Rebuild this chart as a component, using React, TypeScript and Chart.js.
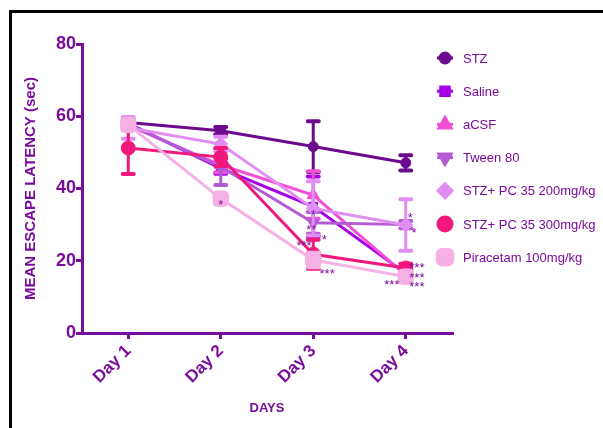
import React, { useEffect, useRef } from 'react';
import { Chart, registerables } from 'chart.js';
import { drawPoint } from 'chart.js/helpers';

Chart.register(...registerables);

// ---------- data ----------
const days = ['Day 1', 'Day 2', 'Day 3', 'Day 4'];
const yTickValues = [0, 20, 40, 60, 80];
const seriesNames = [
  'STZ',
  'Saline',
  'aCSF',
  'Tween 80',
  'STZ+ PC 35 200mg/kg',
  'STZ+ PC 35 300mg/kg',
  'Piracetam 100mg/kg',
];
const stzMean = [58.3, 56.0, 51.6, 47.1];
const stzErr = [0.8, 1.0, 7.0, 2.1];
const salineMean = [58.0, 45.6, 35.0, 16.5];
const salineErr = [0.8, 1.5, 8.3, 1.0];
const acsfMean = [57.5, 46.5, 38.2, 16.0];
const acsfErr = [1.0, 2.0, 6.6, 1.0];
const tweenMean = [57.8, 46.0, 30.5, 30.0];
const tweenErr = [1.0, 5.0, 3.0, 1.0];
const pc200Mean = [56.8, 52.3, 34.5, 29.9];
const pc200Err = [3.0, 2.0, 7.5, 7.1];
const pc300Mean = [51.2, 48.7, 21.8, 18.0];
const pc300Err = [7.2, 2.5, 4.0, 1.2];
const piracetamMean = [57.6, 37.2, 20.2, 15.6];
const piracetamErr = [1.5, 1.5, 2.0, 1.5];

// significance marks: [day position (0-based), value, text]
const sigMarks: [number, number, string][] = [
  [1.0, 36.5, '*'],
  [2.0, 33.6, '*'],
  [1.98, 29.6, '**'],
  [2.12, 26.7, '*'],
  [1.9, 25.0, '***'],
  [2.15, 17.4, '***'],
  [3.05, 32.7, '*'],
  [3.09, 28.7, '*'],
  [3.12, 19.1, '***'],
  [3.12, 16.3, '***'],
  [3.12, 13.6, '***'],
  [2.85, 14.2, '***'],
];

const means = [stzMean, salineMean, acsfMean, tweenMean, pc200Mean, pc300Mean, piracetamMean];
const errs = [stzErr, salineErr, acsfErr, tweenErr, pc200Err, pc300Err, piracetamErr];

// ---------- styles ----------
const PURPLE = '#7a0c9c';
const colors = ['#6b0a8d', '#a600e6', '#f050d6', '#b45ad4', '#e08ef2', '#f0187a', '#f5b0e4'];
const pointStyles = ['circle', 'rect', 'triangle', 'triangle', 'rectRot', 'circle', 'rectRounded'];
const pointRotations = [0, 0, 0, 180, 0, 0, 0];
const pointRadii = [5, 6, 7, 7, 7, 7, 9];
const FONT = "'Liberation Sans', Arial, Helvetica, sans-serif";

const errorBarPlugin = {
  id: 'errorBars',
  beforeDatasetDraw(chart: any, args: any) {
    const i = args.index;
    const meta = args.meta;
    const yScale = chart.scales.y;
    const ctx = chart.ctx;
    ctx.save();
    ctx.strokeStyle = colors[i];
    ctx.lineCap = 'round';
    meta.data.forEach((pt: any, j: number) => {
      const v = means[i][j];
      const e = errs[i][j];
      const yt = yScale.getPixelForValue(v + e);
      const yb = yScale.getPixelForValue(v - e);
      const x = pt.x;
      ctx.lineWidth = 3;
      ctx.beginPath();
      ctx.moveTo(x, yt);
      ctx.lineTo(x, yb);
      ctx.stroke();
      ctx.lineWidth = 4;
      ctx.beginPath();
      ctx.moveTo(x - 5.5, yt);
      ctx.lineTo(x + 5.5, yt);
      ctx.moveTo(x - 5.5, yb);
      ctx.lineTo(x + 5.5, yb);
      ctx.stroke();
    });
    ctx.restore();
  },
};

const marksPlugin = {
  id: 'sigMarks',
  afterDatasetsDraw(chart: any) {
    const ctx = chart.ctx;
    const xs = chart.scales.x;
    const ys = chart.scales.y;
    ctx.save();
    ctx.fillStyle = PURPLE;
    ctx.font = `13px ${FONT}`;
    ctx.textAlign = 'center';
    ctx.textBaseline = 'alphabetic';
    sigMarks.forEach(([d, v, t]) => {
      const x = xs.getPixelForValue(d);
      const y = ys.getPixelForValue(v);
      ctx.fillText(t, x, y + 7.5);
    });
    ctx.restore();
  },
};

const legendPlugin = {
  id: 'customLegend',
  afterDraw(chart: any) {
    const ctx = chart.ctx;
    ctx.save();
    seriesNames.forEach((name, i) => {
      const y = 58 + 33.2 * i;
      const cx = 445;
      ctx.strokeStyle = colors[i];
      ctx.fillStyle = colors[i];
      ctx.lineWidth = 3;
      ctx.beginPath();
      ctx.moveTo(cx - 8, y);
      ctx.lineTo(cx + 8, y);
      ctx.stroke();
      drawPoint(
        ctx,
        {
          pointStyle: pointStyles[i] as any,
          rotation: pointRotations[i],
          radius: pointRadii[i],
          borderWidth: 1,
        } as any,
        cx,
        y
      );
      ctx.fillStyle = PURPLE;
      ctx.font = `13px ${FONT}`;
      ctx.textAlign = 'left';
      ctx.textBaseline = 'middle';
      ctx.fillText(name, 463, y + 1);
    });
    ctx.restore();
  },
};

export default function App() {
  const ref = useRef<HTMLCanvasElement | null>(null);

  useEffect(() => {
    if (!ref.current) return;
    const chart = new Chart(ref.current, {
      type: 'line',
      data: {
        labels: days,
        datasets: seriesNames.map((name, i) => ({
          label: name,
          data: means[i],
          borderColor: colors[i],
          backgroundColor: colors[i],
          pointBackgroundColor: colors[i],
          pointBorderColor: colors[i],
          borderWidth: 3,
          pointStyle: pointStyles[i] as any,
          pointRotation: pointRotations[i],
          pointRadius: pointRadii[i],
          pointBorderWidth: 1,
          tension: 0,
          fill: false,
          order: seriesNames.length - 1 - i,
        })),
      },
      options: {
        animation: false,
        responsive: false,
        devicePixelRatio: 1,
        layout: { padding: { top: 44, right: 151, left: 0, bottom: 0 } },
        plugins: {
          legend: { display: false },
          tooltip: { enabled: false },
        },
        scales: {
          x: {
            type: 'category',
            offset: true,
            afterFit: (s: any) => {
              s.height = 95;
            },
            grid: {
              drawOnChartArea: false,
              drawTicks: true,
              tickLength: 6,
              color: PURPLE,
              lineWidth: 3,
              offset: false,
            },
            border: { display: true, color: PURPLE, width: 3 },
            ticks: {
              color: PURPLE,
              font: { family: FONT, size: 17, weight: 'bold' },
              minRotation: 45,
              maxRotation: 45,
              padding: 2,
            },
            title: {
              display: true,
              text: 'DAYS',
              color: PURPLE,
              font: { family: FONT, size: 13, weight: 'bold' },
              padding: { top: 0, bottom: 12 },
            },
          },
          y: {
            min: 0,
            max: 80,
            afterFit: (s: any) => {
              s.width = 82;
            },
            afterBuildTicks: (s: any) => {
              s.ticks = yTickValues.map((v) => ({ value: v }));
            },
            grid: {
              drawOnChartArea: false,
              drawTicks: true,
              tickLength: 6,
              color: PURPLE,
              lineWidth: 3,
            },
            border: { display: true, color: PURPLE, width: 3 },
            ticks: {
              color: PURPLE,
              font: { family: FONT, size: 18, weight: 'bold' },
              padding: 0,
            },
            title: {
              display: true,
              text: 'MEAN ESCAPE LATENCY (sec)',
              color: PURPLE,
              font: { family: FONT, size: 15, weight: 'bold' },
              padding: { top: 22, bottom: 0 },
            },
          },
        },
      },
      plugins: [errorBarPlugin, marksPlugin, legendPlugin],
    });
    return () => chart.destroy();
  }, []);

  return (
    <div style={{ position: 'fixed', left: 0, top: 0, width: 603, height: 428, background: '#fff', overflow: 'hidden' }}>
      <div
        style={{
          position: 'absolute',
          left: 9,
          top: 10,
          width: 700,
          height: 500,
          borderTop: '3px solid #000',
          borderLeft: '3px solid #000',
        }}
      />
      <canvas ref={ref} width={603} height={428} style={{ position: 'absolute', left: 0, top: 0 }} />
    </div>
  );
}
